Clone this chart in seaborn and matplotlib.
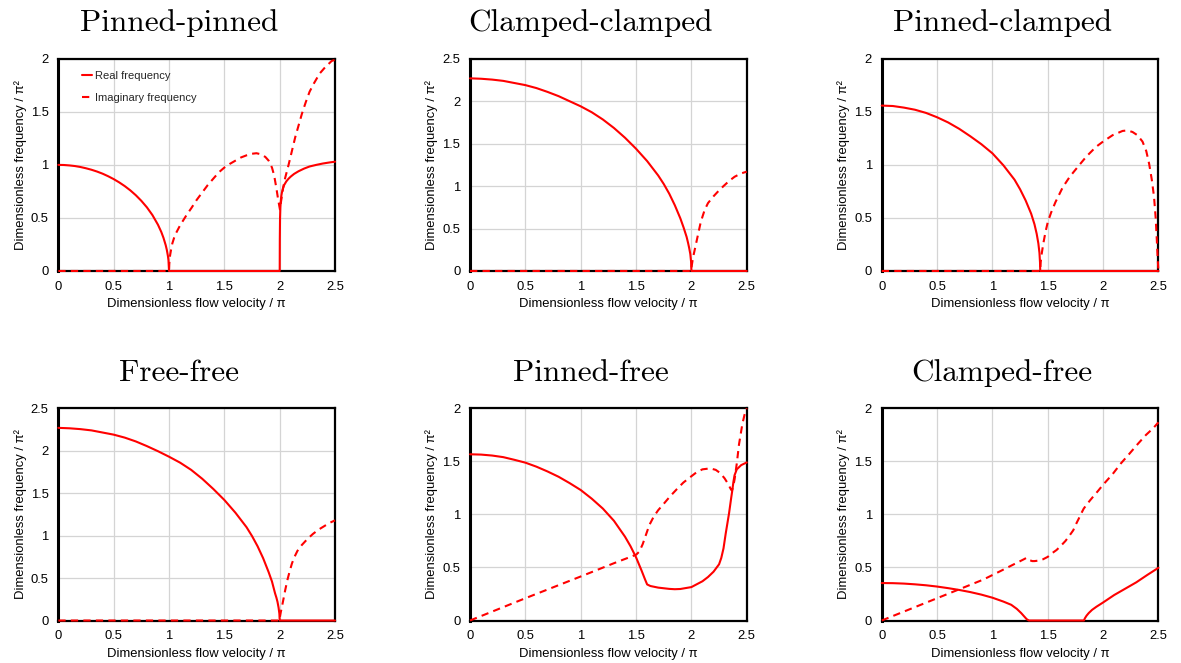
import matplotlib
matplotlib.use("Agg")
import matplotlib.pyplot as plt
import seaborn as sns
import pandas as pd
from matplotlib.ticker import MultipleLocator, FuncFormatter
from matplotlib.lines import Line2D

# ---------------- data ----------------
titles = ["Pinned-pinned", "Clamped-clamped", "Pinned-clamped",
          "Free-free", "Pinned-free", "Clamped-free"]
y_max = [2.0, 2.5, 2.0, 2.5, 2.0, 2.0]
x_label = "Dimensionless flow velocity / π"
y_label = "Dimensionless frequency / π²"
legend_labels = ["Real frequency", "Imaginary frequency"]

# Pinned-pinned
pp_real_x = [0, .05, .1, .15, .2, .25, .3, .35, .4, .45, .5, .55, .6, .65, .7, .75, .8, .85, .9,
             .93, .95, .97, .98, .99, .995, 1.0, 1.5, 2.0, 2.001, 2.003, 2.006, 2.01, 2.015, 2.02,
             2.03, 2.04, 2.06, 2.08, 2.1, 2.13, 2.17, 2.22, 2.27, 2.33, 2.39, 2.45, 2.5]
pp_real_y = [1.0, .999, .995, .989, .98, .968, .954, .937, .917, .893, .866, .835, .80, .76, .714,
             .661, .60, .527, .436, .368, .312, .243, .199, .141, .10, 0.0, 0.0, 0.0, 0.30, 0.50,
             0.60, 0.66, 0.71, 0.74, 0.78, 0.81, 0.845, 0.87, 0.89, 0.915, 0.94, 0.965, 0.985,
             1.0, 1.013, 1.023, 1.03]
pp_imag_x = [0, 0.5, 1.0, 1.002, 1.005, 1.01, 1.02, 1.03, 1.045, 1.06, 1.08, 1.1, 1.13, 1.16, 1.2,
             1.25, 1.3, 1.35, 1.4, 1.45, 1.5, 1.55, 1.6, 1.65, 1.7, 1.75, 1.79, 1.83, 1.87, 1.9,
             1.93, 1.95, 1.97, 1.985, 1.995, 2.002, 2.01, 2.03, 2.05, 2.08, 2.11, 2.14, 2.17, 2.2,
             2.235, 2.27, 2.31, 2.36, 2.41, 2.47, 2.5]
pp_imag_y = [0, 0, 0, 0.06, 0.10, 0.15, 0.21, 0.26, 0.31, 0.35, 0.39, 0.43, 0.48, 0.53, 0.59,
             0.67, 0.74, 0.81, 0.87, 0.93, 0.975, 1.01, 1.04, 1.07, 1.09, 1.105, 1.11, 1.10, 1.075,
             1.04, 0.975, 0.90, 0.78, 0.68, 0.62, 0.58, 0.64, 0.78, 0.88, 1.0, 1.13, 1.26, 1.37,
             1.48, 1.59, 1.69, 1.77, 1.86, 1.92, 1.98, 1.99]

# Clamped-clamped
cc_real_x = [0, .1, .2, .3, .4, .5, .6, .7, .8, .9, 1.0, 1.1, 1.2, 1.3, 1.4, 1.5, 1.6, 1.7, 1.75,
             1.8, 1.85, 1.9, 1.93, 1.957, 1.97, 1.98, 1.99, 1.997, 2.0, 2.5]
cc_real_y = [2.27, 2.265, 2.255, 2.24, 2.215, 2.19, 2.155, 2.11, 2.06, 2.0, 1.94, 1.87, 1.785,
             1.685, 1.57, 1.44, 1.295, 1.125, 1.025, 0.91, 0.775, 0.62, 0.51, 0.40, 0.33, 0.27,
             0.20, 0.11, 0.0, 0.0]
cc_imag_x = [0, 1.0, 2.0, 2.003, 2.01, 2.02, 2.035, 2.05, 2.065, 2.08, 2.1, 2.12, 2.15, 2.2, 2.25,
             2.29, 2.34, 2.39, 2.45, 2.5]
cc_imag_y = [0, 0, 0, 0.06, 0.12, 0.19, 0.28, 0.37, 0.46, 0.55, 0.64, 0.72, 0.80, 0.88, 0.95,
             1.0, 1.06, 1.11, 1.15, 1.17]

# Pinned-clamped
pc_real_x = [0, .1, .2, .3, .4, .5, .6, .7, .8, .9, 1.0, 1.1, 1.2, 1.25, 1.3, 1.35, 1.38, 1.4,
             1.415, 1.425, 1.43, 1.432, 2.0, 2.5]
pc_real_y = [1.559, 1.555, 1.54, 1.52, 1.49, 1.449, 1.40, 1.34, 1.27, 1.195, 1.109, 0.995, 0.86,
             0.77, 0.665, 0.54, 0.44, 0.35, 0.26, 0.17, 0.08, 0.0, 0.0, 0.0]
pc_imag_x = [0, 1.0, 1.432, 1.436, 1.445, 1.46, 1.48, 1.5, 1.53, 1.57, 1.636, 1.7, 1.786, 1.85,
             1.936, 2.0, 2.086, 2.176, 2.22, 2.266, 2.31, 2.356, 2.39, 2.416, 2.44, 2.46, 2.475,
             2.485, 2.493, 2.5]
pc_imag_y = [0, 0, 0, 0.08, 0.16, 0.26, 0.37, 0.46, 0.55, 0.65, 0.79, 0.89, 1.0, 1.08, 1.17,
             1.22, 1.28, 1.32, 1.325, 1.31, 1.28, 1.22, 1.13, 1.01, 0.86, 0.70, 0.50, 0.30, 0.12,
             0.0]

# Free-free
ff_real_x = [0, .1, .2, .3, .4, .5, .6, .7, .8, .9, 1.0, 1.1, 1.2, 1.3, 1.4, 1.5, 1.6, 1.7, 1.75,
             1.8, 1.85, 1.9, 1.93, 1.958, 1.97, 1.98, 1.99, 1.997, 2.0, 2.5]
ff_real_y = [2.27, 2.265, 2.255, 2.24, 2.215, 2.19, 2.155, 2.11, 2.055, 1.995, 1.93, 1.86, 1.775,
             1.67, 1.55, 1.42, 1.27, 1.10, 0.995, 0.875, 0.735, 0.57, 0.46, 0.32, 0.27, 0.22,
             0.15, 0.08, 0.0, 0.0]
ff_imag_x = [0, 1.0, 2.0, 2.003, 2.01, 2.02, 2.035, 2.05, 2.07, 2.09, 2.11, 2.13, 2.16, 2.2,
             2.25, 2.3, 2.35, 2.4, 2.45, 2.5]
ff_imag_y = [0, 0, 0, 0.05, 0.10, 0.16, 0.26, 0.36, 0.48, 0.58, 0.67, 0.74, 0.82, 0.89, 0.96,
             1.02, 1.07, 1.11, 1.15, 1.18]

# Pinned-free
pf_real_x = [0, .1, .2, .3, .4, .5, .6, .7, .8, .9, 1.0, 1.1, 1.2, 1.3, 1.4, 1.45, 1.5, 1.55,
             1.58, 1.6, 1.63, 1.7, 1.8, 1.85, 1.9, 2.0, 2.1, 2.15, 2.2, 2.25, 2.27, 2.29, 2.31,
             2.34, 2.36, 2.37, 2.38, 2.39, 2.41, 2.45, 2.5]
pf_real_y = [1.567, 1.564, 1.555, 1.54, 1.515, 1.488, 1.45, 1.405, 1.355, 1.295, 1.23, 1.148,
             1.055, 0.94, 0.79, 0.70, 0.595, 0.47, 0.39, 0.34, 0.325, 0.31, 0.298, 0.295, 0.297,
             0.315, 0.37, 0.41, 0.46, 0.53, 0.59, 0.68, 0.82, 1.01, 1.16, 1.23, 1.31, 1.37, 1.425,
             1.465, 1.49]
pf_imag_x = [0, 0.5, 1.0, 1.3, 1.5, 1.53, 1.56, 1.59, 1.62, 1.66, 1.7, 1.75, 1.807, 1.87, 1.927,
             2.0, 2.05, 2.1, 2.17, 2.22, 2.26, 2.3, 2.33, 2.355, 2.365, 2.375, 2.39, 2.41, 2.43,
             2.46, 2.48, 2.5]
pf_imag_y = [0, 0.21, 0.415, 0.54, 0.62, 0.65, 0.72, 0.81, 0.90, 0.98, 1.04, 1.10, 1.17, 1.24,
             1.30, 1.36, 1.40, 1.425, 1.434, 1.42, 1.39, 1.34, 1.29, 1.24, 1.225, 1.25, 1.33, 1.48,
             1.66, 1.85, 1.94, 2.0]

# Clamped-free
cf_real_x = [0, .1, .2, .3, .4, .5, .6, .7, .8, .9, 1.0, 1.1, 1.17, 1.22, 1.26, 1.29, 1.31, 1.33,
             1.827, 1.835, 1.85, 1.87, 1.9, 1.94, 1.97, 2.0, 2.05, 2.1, 2.2, 2.3, 2.4, 2.5]
cf_real_y = [0.353, 0.352, 0.348, 0.341, 0.332, 0.32, 0.305, 0.288, 0.268, 0.244, 0.215, 0.178,
             0.148, 0.11, 0.07, 0.035, 0.012, 0.0, 0.0, 0.02, 0.045, 0.07, 0.10, 0.13, 0.15, 0.17,
             0.205, 0.24, 0.30, 0.36, 0.43, 0.497]
cf_imag_x = [0, 0.5, 0.916, 1.067, 1.217, 1.28, 1.307, 1.325, 1.34, 1.36, 1.38, 1.42, 1.457, 1.5,
             1.533, 1.58, 1.623, 1.66, 1.698, 1.73, 1.758, 1.78, 1.803, 1.825, 1.848, 1.88, 1.908,
             1.953, 2.0, 2.086, 2.16, 2.236, 2.31, 2.386, 2.45, 2.5]
cf_imag_y = [0, 0.21, 0.385, 0.463, 0.542, 0.575, 0.59, 0.585, 0.567, 0.56, 0.56, 0.565, 0.577,
             0.60, 0.63, 0.665, 0.709, 0.75, 0.803, 0.85, 0.914, 0.96, 1.01, 1.055, 1.087, 1.13,
             1.165, 1.22, 1.28, 1.38, 1.48, 1.57, 1.66, 1.748, 1.81, 1.868]

panels = [
    (pp_real_x, pp_real_y, pp_imag_x, pp_imag_y),
    (cc_real_x, cc_real_y, cc_imag_x, cc_imag_y),
    (pc_real_x, pc_real_y, pc_imag_x, pc_imag_y),
    (ff_real_x, ff_real_y, ff_imag_x, ff_imag_y),
    (pf_real_x, pf_real_y, pf_imag_x, pf_imag_y),
    (cf_real_x, cf_real_y, cf_imag_x, cf_imag_y),
]

# ---------------- style ----------------
sns.set_theme(style="whitegrid")
plt.rcParams["font.family"] = ["Liberation Sans", "DejaVu Sans"]

RED = "#ff0000"
DASH = (0, (3.5, 2.5))
LW = 1.5
FS = 9.4

fig = plt.figure(figsize=(11.81, 6.63), dpi=100)
lefts = [0.0494, 0.398, 0.7466]
bottoms = [0.5913, 0.0641]
W, H = 0.2343, 0.3200

fmt = FuncFormatter(lambda v, p: f"{v:g}")

for i, (t, ym, (rx, ry, ix, iy)) in enumerate(zip(titles, y_max, panels)):
    ax = fig.add_axes([lefts[i % 3], bottoms[i // 3], W, H])
    ax.set_facecolor("white")
    df_r = pd.DataFrame({"x": rx, "y": ry})
    df_i = pd.DataFrame({"x": ix, "y": iy})
    sns.lineplot(data=df_i, x="x", y="y", ax=ax, color=RED, lw=LW, linestyle=DASH,
                 sort=False, estimator=None, errorbar=None, clip_on=False, zorder=3)
    sns.lineplot(data=df_r, x="x", y="y", ax=ax, color=RED, lw=LW,
                 sort=False, estimator=None, errorbar=None, clip_on=False, zorder=3.1)
    ax.set_xlim(0, 2.5)
    ax.set_ylim(0, ym)
    ax.xaxis.set_major_locator(MultipleLocator(0.5))
    ax.yaxis.set_major_locator(MultipleLocator(0.5))
    ax.xaxis.set_major_formatter(fmt)
    ax.yaxis.set_major_formatter(fmt)
    ax.grid(True, color="#d4d4d4", lw=0.9)
    for name, s in ax.spines.items():
        s.set_color("black")
        s.set_linewidth(2.2 if name == "left" else 1.6)
        s.set_visible(True)
    ax.tick_params(length=0, labelsize=FS, pad=7, colors="black")
    ax.set_xlabel(x_label, fontsize=FS, labelpad=4, color="black")
    ax.set_ylabel(y_label, fontsize=FS, labelpad=3, color="black")
    ax.set_title(t, family="cmr10", fontsize=22.5, x=0.435, pad=20, color="black")
    if i == 0:
        handles = [Line2D([], [], color=RED, lw=LW),
                   Line2D([], [], color=RED, lw=LW, linestyle=DASH)]
        ax.legend(handles, legend_labels, loc="upper left", bbox_to_anchor=(0.05, 0.99),
                  frameon=False, fontsize=8, handlelength=0.9, handletextpad=0.25,
                  labelspacing=1.1)

fig.savefig("out.png", dpi=100, facecolor="white")
